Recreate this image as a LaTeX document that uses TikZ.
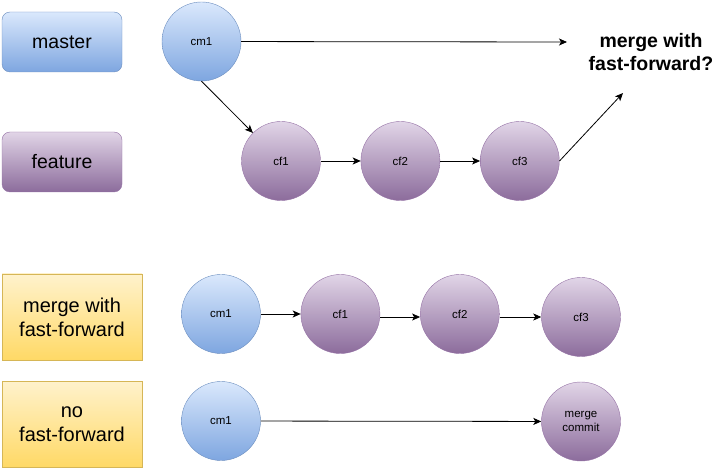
\documentclass[tikz,border=0pt]{standalone}
\usepackage{fontspec}
\setmainfont{Liberation Sans}
\usetikzlibrary{arrows.meta,positioning}

\definecolor{blueTop}{HTML}{DAE8FC}
\definecolor{blueBot}{HTML}{7EA6E0}
\definecolor{blueLine}{HTML}{6C8EBF}
\definecolor{purpleTop}{HTML}{E1D5E7}
\definecolor{purpleBot}{HTML}{8C6C9C}
\definecolor{purpleLine}{HTML}{9673A6}
\definecolor{yellowTop}{HTML}{FFF2CC}
\definecolor{yellowBot}{HTML}{FFD966}
\definecolor{yellowLine}{HTML}{D6B656}

\begin{document}
\begin{tikzpicture}[
  x=1pt, y=-1pt,
  node distance=40pt,
  branch/.style={rectangle, rounded corners=8pt, minimum width=120pt, minimum height=60pt, font=\fontsize{19.5}{23}\selectfont},
  option/.style={rectangle, draw=yellowLine, top color=yellowTop, bottom color=yellowBot, minimum width=140pt, minimum height=86pt, align=center, font=\fontsize{20}{24}\selectfont},
  bluefill/.style={draw=blueLine, top color=blueTop, bottom color=blueBot},
  purplefill/.style={draw=purpleLine, top color=purpleTop, bottom color=purpleBot},
  commit/.style={circle, minimum size=79pt, inner sep=0pt, align=center, font=\fontsize{11.5}{13.3}\selectfont},
  link/.style={-{Stealth[length=8pt, width=7pt, inset=2pt]}, line width=0.8pt}
]
  \useasboundingbox (0,0) rectangle (723,470);

  % branches
  \node (master) [branch, bluefill] at (62,42) {master};
  \node (feature) [branch, purplefill] at (62,162) {feature};

  \node (cm1) [commit, bluefill] at (201.5,41.5) {cm1};
  \node (cf1) [commit, purplefill] at (281,161) {cf1};
  \node (cf2) [commit, purplefill, right=of cf1] {cf2};
  \node (cf3) [commit, purplefill, right=of cf2] {cf3};

  \node (question) [font=\fontsize{19.5}{23}\selectfont\bfseries, align=center] at (651,52) {merge with\\fast-forward?};
  \coordinate (qmaster) at (567,42);
  \coordinate (qfeature) at (623,93);

  \draw [link] (cm1) -- (qmaster);
  \draw [link] (cm1.south) -- (cf1.north west);
  \draw [link] (cf1) -- (cf2);
  \draw [link] (cf2) -- (cf3);
  \draw [link] (cf3.east) -- (qfeature);

  % merge with fast-forward
  \node (ffbox) [option] at (72,317) {merge with\\fast-forward};
  \node (ffcm1) [commit, bluefill] at (221,314) {cm1};
  \node (ffcf1) [commit, purplefill, right=of ffcm1] {cf1};
  \node (ffcf2) [commit, purplefill, right=of ffcf1] {cf2};
  \node (ffcf3) [commit, purplefill] at (581,317) {cf3};

  \draw [link] (ffcm1) -- (ffcf1);
  \draw [link] ([yshift=-3pt]ffcf1.east) -- ([yshift=-3pt]ffcf2.west);
  \draw [link] ([yshift=-3pt]ffcf2.east) -- (ffcf3.west);

  % no fast-forward
  \node (noffbox) [option] at (72,424) {no\\fast-forward};
  \node (noffcm1) [commit, bluefill] at (221,421) {cm1};
  \node (mergecm) [commit, purplefill] at (581,421.5) {merge\\commit};

  \draw [link] (noffcm1) -- (mergecm);
\end{tikzpicture}
\end{document}
